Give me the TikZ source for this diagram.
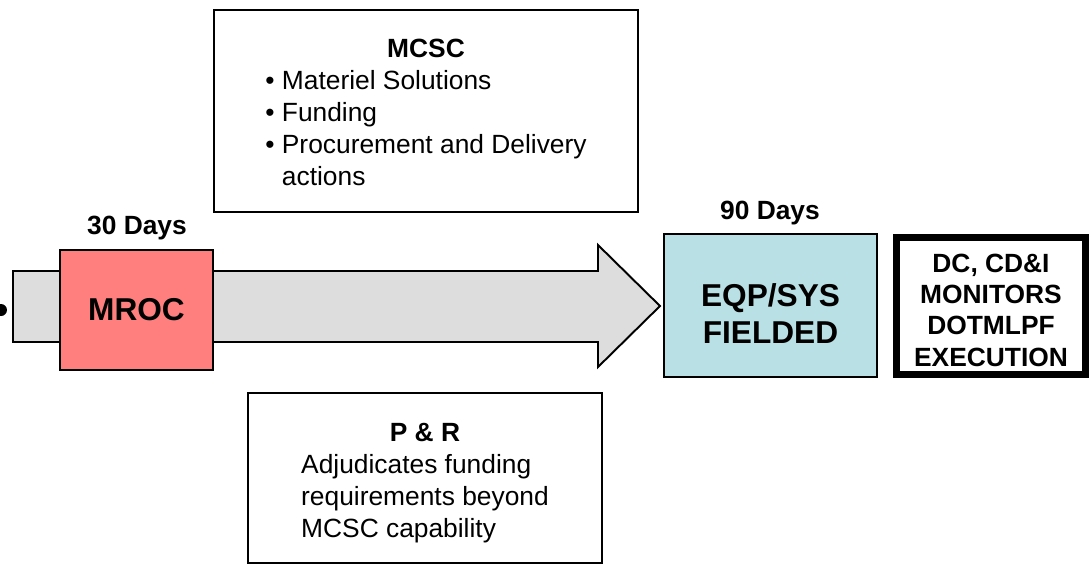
\documentclass[tikz,border=0pt]{standalone}
\usepackage{fontspec}
\setmainfont{Liberation Sans}
\usetikzlibrary{positioning}

\definecolor{mrocred}{HTML}{FF7F7F}
\definecolor{fieldblue}{HTML}{B9E0E4}
\definecolor{arrowgray}{HTML}{DDDDDD}

\begin{document}
\begin{tikzpicture}[x=0.02cm,y=-0.02cm,
    box/.style={draw,line width=1.1pt,inner sep=0pt},
    big/.style={font=\fontsize{18}{21}\selectfont\bfseries},
    small/.style={font=\fontsize{15}{18.2}\selectfont}]
  \useasboundingbox (0,0) rectangle (1092,568);
  % flow arrow
  \fill (1,310) circle (0.12cm);
  \draw[line width=1.1pt,fill=arrowgray] (13,271) -- (598,271) -- (598,245) -- (660,306)
    -- (598,367) -- (598,342) -- (13,342) -- cycle;
  % stages
  \node[box,fill=mrocred,minimum width=3.06cm,minimum height=2.4cm,big] (mroc) at (136.5,310) {MROC};
  \node[small] (d30) at (137,228) {\bfseries 30 Days};
  \node[box,fill=fieldblue,minimum width=4.26cm,minimum height=2.86cm,big] (eqp) at (770.5,305.5) {%
    \raisebox{-7pt}[\height][\depth]{\begin{tabular}{@{}c@{}}EQP/SYS\\FIELDED\end{tabular}}};
  \node[small] (d90) at (770,213) {\bfseries 90 Days};
  \node[draw,line width=4pt,minimum width=3.78cm,minimum height=2.74cm,inner sep=0pt,
    font=\fontsize{15}{17.8}\selectfont\bfseries] (dc) at (991,306) {%
    \raisebox{-4pt}[\height][\depth]{\begin{tabular}{@{}c@{}}DC, CD\&I\\MONITORS\\DOTMLPF\\EXECUTION\end{tabular}}};
  % supporting roles
  \node[box,minimum width=8.48cm,minimum height=4.04cm,small] (mcsc) at (426,111) {%
    \raisebox{-2.5pt}[\height][\depth]{\begin{tabular}{@{}l@{}}
      \multicolumn{1}{@{}c@{}}{\bfseries MCSC}\\
      \textbullet\ Materiel Solutions\\
      \textbullet\ Funding\\
      \textbullet\ Procurement and Delivery\\
      \phantom{\textbullet\ }actions
    \end{tabular}}};
  \node[box,minimum width=7.08cm,minimum height=3.4cm,small] (pr) at (425,478) {%
    \raisebox{-3pt}[\height][\depth]{\begin{tabular}{@{}l@{}}
      \multicolumn{1}{@{}c@{}}{\bfseries P \& R}\\
      Adjudicates funding\\
      requirements beyond\\
      MCSC capability
    \end{tabular}}};
\end{tikzpicture}
\end{document}
